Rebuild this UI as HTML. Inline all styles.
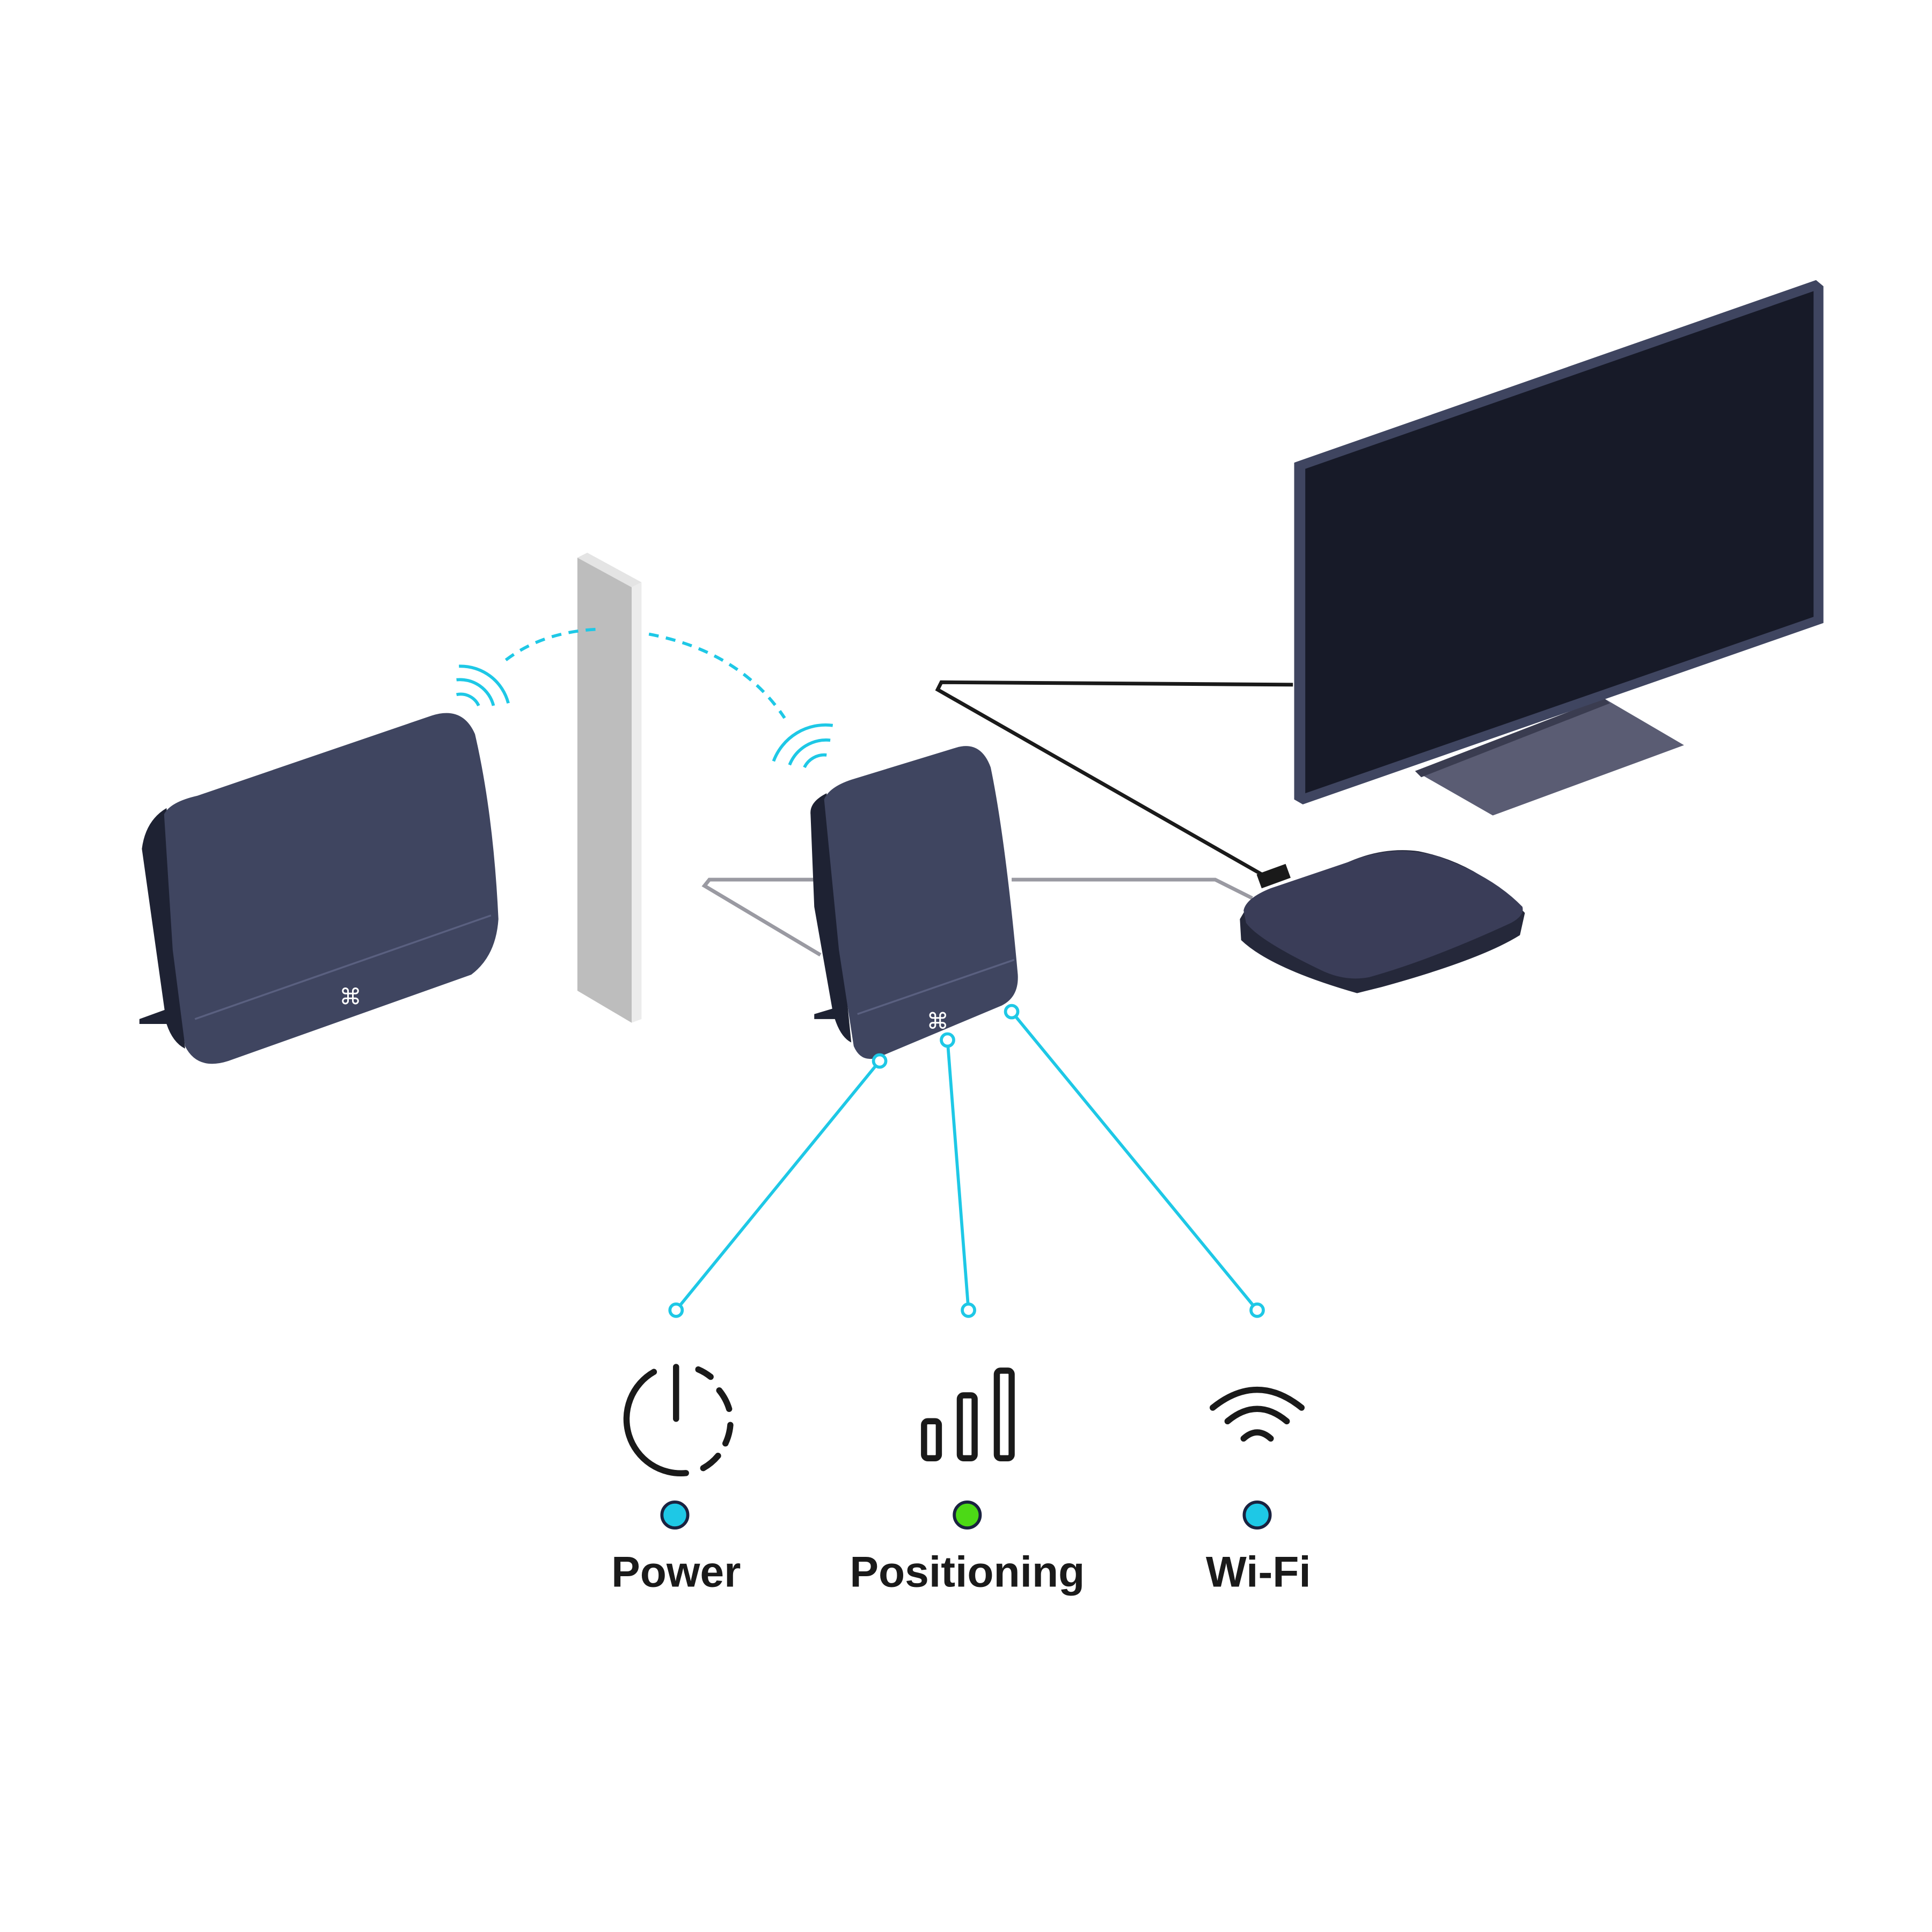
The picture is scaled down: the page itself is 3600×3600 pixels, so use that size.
<!DOCTYPE html>
<html><head><meta charset="utf-8"><style>
html,body{margin:0;padding:0;background:#fff;}
svg{display:block;}
</style></head><body>
<svg width="3600" height="3600" viewBox="0 0 1566 1566" xmlns="http://www.w3.org/2000/svg">
<rect width="1566" height="1566" fill="#fff"/>
<!-- TV -->
<polygon points="1147,625 1300,566 1365,604 1210,661" fill="#5a5c73"/>
<polygon points="1147,625 1300,566 1305,570 1152,630" fill="#3a3c50"/>
<polygon points="1049,375 1472,227 1478,232 1478,505 1056,652 1049,648" fill="#3f4560"/>
<polygon points="1058,380 1470,236 1470,500 1058,643" fill="#171a28"/>
<!-- black cable -->
<polyline points="1048,555 763,553 760,559 1025,710" fill="none" stroke="#1a1a1a" stroke-width="3"/>
<!-- gray cables -->
<polyline points="660,713 575,713 571,718 665,774" fill="none" stroke="#9a9aa2" stroke-width="3"/>
<polyline points="820,713 985,713 1015,728" fill="none" stroke="#9a9aa2" stroke-width="3"/>
<!-- set top box -->
<path d="M1005,745 L1006,762 Q1030,785 1100,805 L1120,800 Q1200,778 1232,758 L1236,740 Q1200,700 1150,690 Q1120,686 1090,700 L1015,728 Z" fill="#25283a"/>
<path d="M1008,738 Q1010,728 1030,720 L1095,698 Q1130,684 1165,694 Q1210,710 1234,735 Q1236,742 1225,748 Q1160,778 1110,792 Q1090,796 1070,786 Q1020,762 1010,748 Z" fill="#3a3d58"/>
<rect x="1020" y="705" width="25" height="12" fill="#1a1a1a" transform="rotate(-20 1030 711)"/>
<!-- wall -->
<polygon points="468,452 476,448 520,472 512,476" fill="#e4e4e4"/>
<polygon points="468,452 512,476 512,829 468,803" fill="#bdbdbd"/>
<polygon points="512,476 520,472 520,826 512,829" fill="#ececec"/>
<!-- left router -->
<path d="M115,688 Q118,665 135,655 L150,850 Q140,845 135,830 Z" fill="#1e2233"/>
<path d="M113,826 L135,818 L140,830 L113,830 Z" fill="#1e2233"/>
<path d="M133,660 Q138,650 160,645 L350,580 Q375,572 385,595 Q400,660 404,745 Q402,775 382,790 L185,860 Q160,868 150,848 L140,770 Z" fill="#3f4560"/>
<path d="M158,826 L398,742" stroke="#5a6080" stroke-width="1.5"/>
<text x="284" y="814" font-family="Liberation Sans,sans-serif" font-size="18" fill="#fff" text-anchor="middle">⌘</text>
<!-- booster -->
<path d="M657,660 Q656,650 670,643 L690,845 Q680,840 675,820 L660,735 Z" fill="#1e2233"/>
<path d="M660,822 L680,816 L682,826 L660,826 Z" fill="#1e2233"/>
<path d="M668,648 Q672,638 690,632 L775,606 Q795,600 803,622 Q815,680 825,790 Q826,808 812,815 L712,857 Q698,862 692,848 L680,770 Z" fill="#3f4560"/>
<path d="M695,822 L822,778" stroke="#5a6080" stroke-width="1.5"/>
<text x="760" y="834" font-family="Liberation Sans,sans-serif" font-size="18" fill="#fff" text-anchor="middle">⌘</text>
<!-- dashed signal -->
<g fill="none" stroke="#1ec8e6" stroke-width="2.5">
<path d="M410,535 Q440,512 485,510" stroke-dasharray="8,6"/>
<path d="M526,514 Q600,528 636,582" stroke-dasharray="8,6"/>
<path d="M372,540 A40,40 0 0 1 412,570"/>
<path d="M370,551 A28,28 0 0 1 400,572"/>
<path d="M370,563 A16,16 0 0 1 388,572"/>
<path d="M675,588 A45,45 0 0 0 627,617"/>
<path d="M673,600 A32,32 0 0 0 640,620"/>
<path d="M670,612 A18,18 0 0 0 652,622"/>
</g>
<!-- leaders -->
<g stroke="#1ec8e6" stroke-width="2.5" fill="#fff">
<line x1="713" y1="860" x2="548" y2="1062"/>
<line x1="768" y1="843" x2="785" y2="1062"/>
<line x1="820" y1="820" x2="1019" y2="1062"/>
<circle cx="713" cy="860" r="5"/><circle cx="768" cy="843" r="5"/><circle cx="820" cy="820" r="5"/>
<circle cx="548" cy="1062" r="5"/><circle cx="785" cy="1062" r="5"/><circle cx="1019" cy="1062" r="5"/>
</g>
<!-- icons -->
<g fill="none" stroke="#1a1a1a" stroke-width="5" stroke-linecap="round">
<path d="M530,1112 A44,44 0 0 0 556,1194"/>
<path d="M566,1110 A44,44 0 0 1 576,1116" />
<path d="M583,1127 A44,44 0 0 1 591,1142"/>
<path d="M592,1155 A44,44 0 0 1 588,1170"/>
<path d="M582,1180 A44,44 0 0 1 570,1190"/>
<line x1="548" y1="1108" x2="548" y2="1150"/>
<rect x="749" y="1152" width="12" height="30" rx="3"/>
<rect x="778" y="1131" width="12" height="51" rx="3"/>
<rect x="808" y="1111" width="12" height="71" rx="3"/>
<path d="M983,1141 Q1019,1112 1055,1141"/>
<path d="M995,1152 Q1019,1132 1043,1152"/>
<path d="M1008,1166 Q1019,1156 1030,1166"/>
</g>
<circle cx="547" cy="1228" r="10.5" fill="#1ec8e6" stroke="#1a2240" stroke-width="2.5"/>
<circle cx="784" cy="1228" r="10.5" fill="#4cd916" stroke="#1a2240" stroke-width="2.5"/>
<circle cx="1019" cy="1228" r="10.5" fill="#1ec8e6" stroke="#1a2240" stroke-width="2.5"/>
<g font-family="Liberation Sans,sans-serif" font-weight="bold" font-size="35" fill="#1a1a1a" text-anchor="middle">
<text x="548" y="1286">Power</text>
<text x="784" y="1286">Positioning</text>
<text x="1020" y="1286">Wi-Fi</text>
</g>
</svg>
</body></html>
